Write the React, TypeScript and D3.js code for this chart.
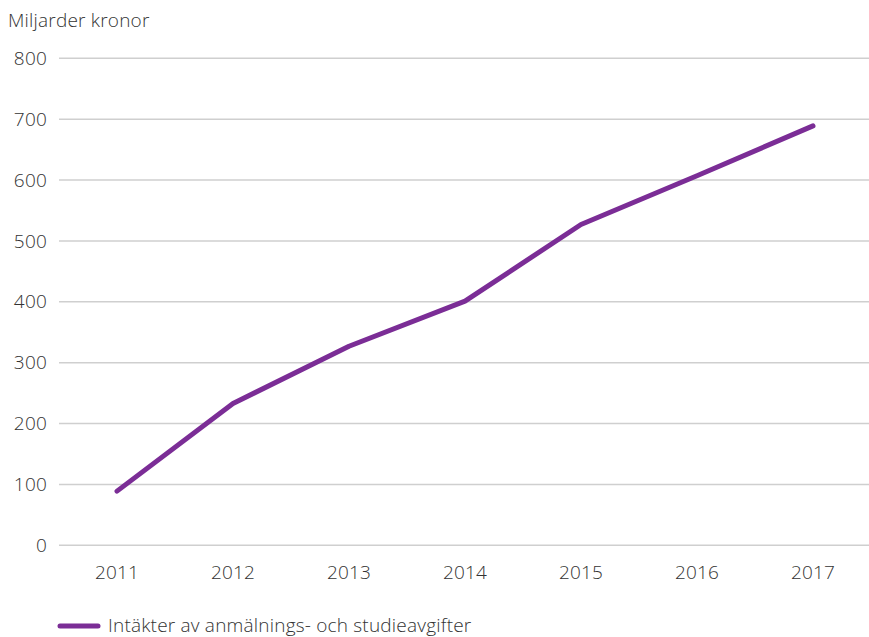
import React from "react";
import * as d3 from "d3";

const years = ["2011", "2012", "2013", "2014", "2015", "2016", "2017"];
const values = [89, 233, 327, 401, 527, 607, 689];
const yTicks = [0, 100, 200, 300, 400, 500, 600, 700, 800];
const seriesName = "Intäkter av anmälnings- och studieavgifter";
const yTitle = "Miljarder kronor";

export default function App() {
  const W = 869, H = 637;
  const x = d3.scalePoint<string>().domain(years).range([117, 813]);
  const y = d3.scaleLinear().domain([0, 800]).range([545.3, 58.3]);
  const line = d3.line<number>().x((_, i) => x(years[i])!).y(d => y(d));
  const font = "'Open Sans', sans-serif";
  const fs = 19;
  return (
    <svg width={W} height={H} style={{ position: "absolute", left: 0, top: 0 }} fontFamily={font} fontWeight={300} letterSpacing={0.2}>
      <text x={8} y={27} fontSize={fs} fill="#333">{yTitle}</text>
      {yTicks.map(t => (
        <g key={t}>
          <line x1={59} x2={869} y1={y(t)} y2={y(t)} stroke="#cfcfcf" strokeWidth={1.5} />
          <text x={47} y={y(t)} dy="0.35em" textAnchor="end" fontSize={fs} fill="#333">{t}</text>
        </g>
      ))}
      {years.map(yr => (
        <text key={yr} x={x(yr)} y={579} textAnchor="middle" fontSize={fs} fill="#333">{yr}</text>
      ))}
      <path d={line(values)!} fill="none" stroke="#7b2d96" strokeWidth={5} strokeLinecap="round" strokeLinejoin="round" />
      <line x1={60} x2={98} y1={626} y2={626} stroke="#7b2d96" strokeWidth={5} strokeLinecap="round" />
      <text x={108} y={632} fontSize={fs} fill="#333">{seriesName}</text>
    </svg>
  );
}
